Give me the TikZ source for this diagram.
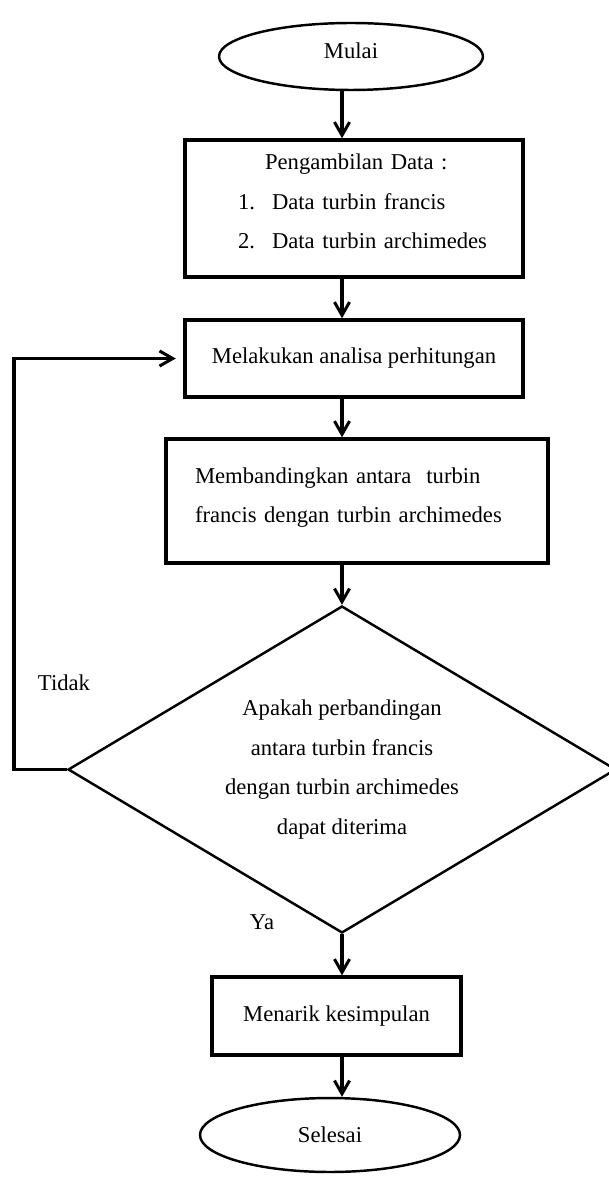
\documentclass[tikz,border=0pt]{standalone}
\usepackage{fontspec}
\setmainfont{Liberation Serif}
\usetikzlibrary{arrows.meta,shapes.geometric}

\begin{document}
\begin{tikzpicture}[
    x=0.53pt, y=-0.53pt,
    font=\fontsize{12}{21}\selectfont,
    line width=1.6pt,
    box/.style={draw, rectangle, inner sep=0pt, line width=1.8pt},
    terminal/.style={draw, ellipse, inner sep=0pt, line width=1.3pt},
    decision/.style={draw, diamond, inner sep=0pt, shape aspect=1.68, line width=1.3pt},
    edge/.style={-{Straight Barb[length=7pt, width=8pt]}}
]
\useasboundingbox (0,0) rectangle (609,1179);
\coordinate (spine) at (342,0);

\node[terminal, minimum width=139.9pt, minimum height=35.5pt] (mulai) at (351,56.5) {Mulai\rule[-6pt]{0pt}{0pt}};
\node[box, minimum height=72.6pt, text width=169.1pt, inner xsep=5pt, align=left] (data) at (354,208.5)
    {\hspace*{37.4pt}Pengambilan Data :\\
     \hspace*{23.1pt}\makebox[18pt][l]{1.}Data turbin francis\\
     \hspace*{23.1pt}\makebox[18pt][l]{2.}Data turbin archimedes\rule[-7.4pt]{0pt}{0pt}};
\node[box, minimum width=179.1pt, minimum height=40.8pt] (analisa) at (354,358.5) {Melakukan analisa perhitungan};
\node[box, minimum height=65.7pt, text width=171.7pt, inner xsep=15.4pt, align=left] (banding) at (357,501)
    {Membandingkan antara\ \ turbin\\francis dengan turbin archimedes\rule[-6.4pt]{0pt}{0pt}};
\node[decision, minimum width=290.4pt, minimum height=173.3pt, align=center] (cek) at (342,769.5)
    {Apakah perbandingan\\antara turbin francis\\dengan turbin archimedes\\dapat diterima};
\node[box, minimum width=132pt, minimum height=41.3pt] (simpul) at (336.5,1016) {Menarik kesimpulan};
\node[terminal, minimum width=137.8pt, minimum height=39.2pt] (selesai) at (330,1135) {Selesai};

\node (tidak) at (64,683) {Tidak};
\node (ya) at (262,922) {Ya};

\draw[edge] (mulai.south -| spine) -- (data.north -| spine);
\draw[edge] (data.south -| spine) -- (analisa.north -| spine);
\draw[edge] (analisa.south -| spine) -- (banding.north -| spine);
\draw[edge] (banding.south -| spine) -- (cek.north);
\draw[edge] (cek.south) -- (simpul.north -| spine);
\draw[edge] (simpul.south -| spine) -- (selesai.north -| spine);

% jalur kembali bila tidak diterima
\coordinate (balik) at (14,769.5);
\draw[edge, shorten >=4pt] (cek.west) -- (balik) |- (analisa.west);
\end{tikzpicture}
\end{document}
